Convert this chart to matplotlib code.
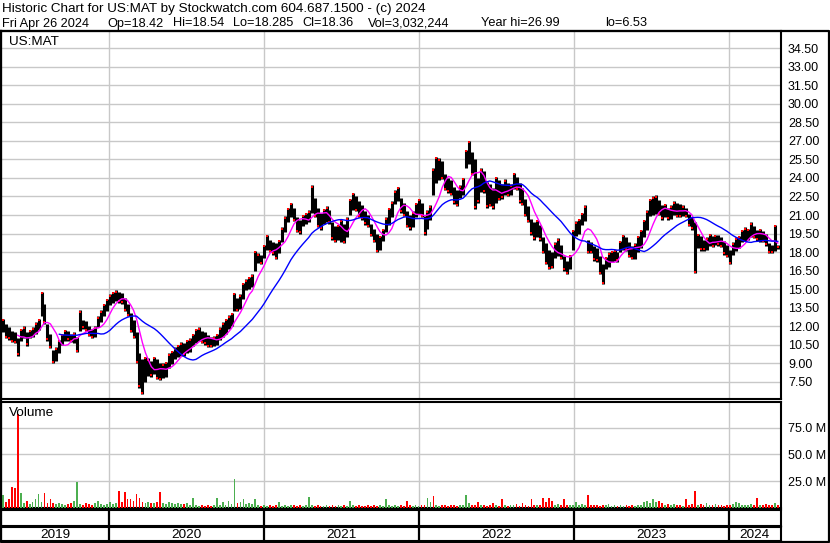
# US:MAT historic chart (Stockwatch style), weekly bars
import matplotlib
matplotlib.use('Agg')
import matplotlib.pyplot as plt
import matplotlib.dates as mdates
import numpy as np
import pandas as pd

plt.rcParams['font.family'] = ['Liberation Sans', 'DejaVu Sans']

# Data: one entry per week, Apr 26 2019 .. Apr 26 2024
start_date = '2019-04-26'

highs = [
    12.6, 12.2, 11.9, 11.6, 11.5, 11.0, 11.8, 12.0, 11.5, 11.7,
    11.9, 12.3, 12.6, 14.8, 13.8, 12.2, 11.4, 10.1, 10.3, 10.9,
    11.4, 11.7, 11.6, 11.4, 11.5, 11.1, 13.3, 12.5, 12.4, 12.0,
    11.8, 12.0, 12.8, 13.3, 13.8, 14.2, 14.6, 14.8, 14.9, 14.8,
    14.7, 14.3, 13.8, 13.1, 12.5, 11.5, 9.8, 9.3, 9.5, 9.4,
    9.2, 9.5, 9.3, 9.0, 9.0, 9.1, 9.8, 10.0, 10.3, 10.5,
    10.7, 10.6, 10.9, 11.0, 11.4, 11.8, 11.9, 11.6, 11.5, 11.3,
    11.1, 11.2, 11.4, 11.9, 12.3, 12.6, 12.9, 13.1, 14.7, 14.3,
    14.6, 15.5, 15.8, 16.0, 16.2, 18.1, 17.9, 17.8, 18.6, 19.4,
    19.0, 18.8, 18.7, 19.0, 20.0, 20.9, 21.6, 22.0, 21.6, 20.8,
    20.6, 21.0, 21.2, 21.4, 23.4, 22.4, 21.6, 21.2, 21.5, 21.7,
    21.4, 20.4, 20.1, 20.2, 20.6, 20.3, 20.8, 22.3, 22.8, 22.5,
    22.1, 21.8, 21.3, 21.0, 20.3, 19.9, 19.5, 19.3, 19.9, 20.8,
    21.6, 22.1, 23.0, 23.3, 22.4, 22.0, 21.3, 21.0, 21.3, 22.0,
    22.3, 22.0, 20.9, 21.4, 21.8, 24.8, 25.7, 25.6, 25.4, 24.3,
    24.0, 23.8, 23.3, 23.0, 23.4, 24.0, 26.3, 27.0, 26.1, 25.5,
    24.0, 24.8, 24.6, 23.7, 23.5, 23.2, 24.1, 23.8, 23.5, 23.9,
    23.6, 23.5, 24.4, 24.1, 23.6, 23.2, 22.3, 21.7, 20.7, 20.4,
    20.6, 20.2, 19.2, 18.7, 18.2, 18.0, 18.8, 19.1, 18.6, 17.7,
    17.3, 17.8, 19.8, 20.5, 20.7, 21.2, 21.8, 19.0, 18.8, 18.5,
    18.3, 17.7, 17.0, 17.6, 18.0, 18.1, 18.2, 18.0, 18.9, 19.4,
    19.2, 18.8, 18.5, 18.7, 19.3, 19.8, 20.6, 21.4, 22.3, 22.5,
    22.6, 22.2, 21.8, 21.9, 21.6, 21.8, 22.1, 22.0, 21.9, 21.8,
    21.6, 21.1, 20.8, 20.4, 19.5, 19.3, 19.0, 19.2, 19.5, 19.3,
    19.4, 19.4, 19.2, 18.9, 18.6, 18.2, 18.8, 19.2, 19.3, 19.8,
    20.0, 19.9, 20.4, 20.1, 19.8, 19.9, 19.7, 19.5, 18.7, 18.6,
    20.2, 18.54,
]

lows = [
    11.5, 11.0, 10.9, 10.7, 10.6, 9.6, 10.8, 11.0, 10.4, 11.0,
    11.1, 11.4, 11.7, 12.8, 12.2, 10.8, 10.2, 9.0, 9.2, 9.8,
    10.5, 10.8, 10.8, 10.7, 10.6, 9.9, 11.6, 11.8, 11.6, 11.2,
    11.0, 11.1, 11.9, 12.3, 12.8, 13.2, 13.7, 13.9, 14.0, 13.9,
    13.8, 13.2, 12.8, 11.5, 11.0, 9.0, 7.0, 6.5, 7.5, 8.0,
    7.9, 8.1, 7.7, 7.6, 7.8, 7.9, 8.6, 8.9, 9.3, 9.5,
    9.6, 9.6, 9.8, 9.9, 10.4, 10.6, 10.8, 10.6, 10.5, 10.3,
    10.3, 10.4, 10.5, 10.9, 11.1, 11.4, 11.8, 12.0, 13.2, 13.2,
    13.4, 14.2, 14.9, 15.0, 15.2, 16.5, 17.1, 17.0, 17.5, 18.2,
    18.0, 17.8, 17.4, 17.9, 18.8, 19.6, 20.4, 20.8, 20.5, 19.6,
    19.5, 20.1, 20.3, 20.4, 21.2, 20.8, 20.0, 19.8, 20.3, 20.4,
    20.3, 19.0, 18.8, 19.0, 18.8, 18.7, 19.2, 21.0, 21.4, 21.3,
    20.8, 20.6, 20.2, 20.0, 19.3, 18.8, 18.0, 18.2, 18.9, 19.6,
    20.2, 20.8, 21.9, 22.1, 21.2, 20.9, 20.0, 19.8, 20.0, 20.8,
    21.1, 20.8, 19.4, 19.9, 20.6, 22.6, 23.6, 23.8, 23.9, 23.0,
    22.8, 22.6, 21.9, 21.7, 22.4, 22.6, 24.8, 25.1, 24.2, 21.5,
    22.0, 22.9, 22.8, 21.6, 21.7, 21.5, 22.0, 22.2, 22.3, 22.6,
    22.5, 22.6, 23.1, 23.0, 22.0, 21.8, 20.9, 20.4, 19.4, 19.0,
    19.2, 18.9, 17.9, 17.0, 16.6, 16.7, 17.5, 17.7, 17.4, 16.5,
    16.2, 16.6, 18.2, 19.3, 19.5, 20.2, 20.5, 17.9, 17.9, 17.3,
    17.2, 16.2, 15.4, 16.6, 16.8, 17.2, 17.3, 17.2, 18.0, 18.2,
    18.1, 17.6, 17.4, 17.4, 18.0, 18.3, 19.2, 19.8, 20.9, 21.0,
    21.1, 21.0, 20.6, 20.8, 20.6, 20.7, 21.0, 20.8, 20.8, 20.9,
    20.8, 20.1, 19.8, 16.3, 18.3, 18.1, 18.1, 18.2, 18.5, 18.4,
    18.6, 18.5, 18.4, 17.8, 17.6, 17.0, 17.8, 18.1, 18.3, 18.8,
    18.9, 19.0, 19.2, 19.1, 18.9, 18.8, 18.8, 18.5, 17.9, 17.9,
    18.1, 18.285,
]

# volume in millions of shares
volumes = [
    12, 6, 8, 20, 19, 88, 14, 5, 7, 4,
    6, 8, 13, 6, 14, 5, 8, 5, 4, 5,
    4, 3, 4, 5, 7, 24, 4, 3, 5, 4,
    3, 5, 7, 4, 3, 4, 6, 4, 5, 16,
    6, 15, 8, 8, 7, 13, 9, 6, 5, 6,
    5, 5, 6, 15, 5, 4, 6, 5, 4, 5,
    4, 4, 5, 3, 9, 3, 2, 3, 2, 3,
    2, 3, 9, 3, 6, 3, 7, 4, 27, 5,
    6, 8, 4, 5, 4, 8, 3, 2, 3, 2,
    3, 2, 3, 6, 2, 3, 2, 3, 3, 2,
    3, 2, 3, 10, 3, 2, 3, 2, 2, 3,
    2, 3, 2, 3, 2, 3, 2, 7, 3, 2,
    3, 2, 2, 3, 2, 3, 2, 3, 2, 8,
    3, 2, 3, 2, 3, 2, 7, 3, 2, 3,
    2, 3, 3, 9, 6, 11, 3, 2, 3, 3,
    2, 3, 3, 2, 3, 3, 12, 5, 3, 3,
    6, 3, 3, 2, 3, 5, 3, 2, 8, 3,
    2, 3, 3, 4, 2, 5, 3, 2, 8, 3,
    3, 3, 9, 6, 9, 7, 3, 4, 3, 8,
    3, 3, 3, 6, 3, 4, 3, 12, 3, 3,
    3, 2, 3, 3, 4, 2, 3, 2, 3, 2,
    3, 2, 3, 2, 3, 3, 6, 7, 5, 8,
    6, 7, 5, 3, 4, 3, 4, 3, 3, 2,
    8, 3, 4, 16, 3, 4, 3, 5, 3, 3,
    4, 3, 3, 2, 3, 3, 4, 6, 5, 3,
    3, 3, 4, 3, 9, 3, 3, 4, 3, 3,
    5, 3,
]
# weeks whose volume bar colour differs from the price direction
vol_colour_fix = {25: 'g', 145: 'r'}

price_ticks = np.arange(7.5, 34.51, 1.5)
vol_ticks = [25, 50, 75]
years = [2019, 2020, 2021, 2022, 2023, 2024]

title1 = 'Historic Chart for US:MAT by Stockwatch.com 604.687.1500 - (c) 2024'
# second header line: fields and their left edge in pixels
title2_fields = ['Fri Apr 26 2024', 'Op=18.42', 'Hi=18.54', 'Lo=18.285',
                 'Cl=18.36', 'Vol=3,032,244', 'Year hi=26.99', 'lo=6.53']
title2_x = [2, 107, 173, 233, 302, 368, 481, 605]

GRID = '#c8c8c8'
GREEN = '#4caf50'
W, H = 830, 543

fig = plt.figure(figsize=(W / 100, H / 100), dpi=100)


def px_axes(x0, y0, x1, y1):
    return fig.add_axes([x0 / W, 1 - y1 / H, (x1 - x0) / W, (y1 - y0) / H])


dates = pd.date_range(start_date, periods=len(highs), freq='7D')
x = mdates.date2num(dates)
xlim = (x[0] - 4.5, x[-1] + 7.5)
year_lines = [mdates.date2num(pd.Timestamp(f'{y}-01-01')) for y in years[1:]]

hi = np.array(highs)
lo = np.array(lows)
mid = pd.Series((hi + lo) / 2)
up = np.r_[True, np.diff(mid.values) >= 0]
closes = np.where(up, hi - 0.12, lo + 0.12)
ma_fast = mid.rolling(6).mean()
ma_slow = mid.rolling(20).mean()

# price panel
ax = px_axes(1, 31, 781, 399)
ax.vlines(x, lo, hi, color='black', lw=2.2, zorder=3)
ax.plot(x, closes, 's', ms=1.5, mew=0, color='red', zorder=4)
ax.plot(x, ma_fast, color='#ff00ff', lw=1.0, zorder=5)
ax.plot(x, ma_slow, color='#0000ff', lw=1.0, zorder=5)
ax.set_xlim(xlim)
ax.set_ylim(6.1, 35.9)
ax.set_xticks(year_lines)
ax.set_xticklabels([])
ax.yaxis.tick_right()
ax.set_yticks(price_ticks)
ax.set_yticklabels([f'{v:.2f}' for v in price_ticks])
ax.tick_params(length=0, labelsize=9, pad=5)
ax.grid(True, color=GRID, lw=1.0)
ax.set_axisbelow(True)
ax.text(8 / 780, 1 - 11 / 368, 'US:MAT', transform=ax.transAxes,
        fontsize=9.7, va='center')

# volume panel
axv = px_axes(1, 402, 781, 508)
colours = []
for i, u in enumerate(up):
    c = vol_colour_fix.get(i, 'g' if u else 'r')
    colours.append(GREEN if c == 'g' else 'red')
axv.bar(x, volumes, width=4.2, color=colours, zorder=3)
axv.set_xlim(xlim)
axv.set_ylim(0, 99)
axv.set_xticks(year_lines)
axv.set_xticklabels([])
axv.yaxis.tick_right()
axv.set_yticks(vol_ticks)
axv.set_yticklabels([f'{v:.1f} M' for v in vol_ticks])
axv.tick_params(length=0, labelsize=9, pad=5)
axv.grid(True, color=GRID, lw=1.0)
axv.set_axisbelow(True)
axv.text(8 / 780, 1 - 11 / 106, 'Volume', transform=axv.transAxes,
         fontsize=9.7, va='center')

# date strips
bounds = [xlim[0]] + year_lines + [xlim[1]]
for y0, y1, labels in [(510, 526, False), (527, 541, True)]:
    axs = px_axes(1, y0, 781, y1)
    axs.set_xlim(xlim)
    axs.set_ylim(0, 1)
    axs.set_xticks([])
    axs.set_yticks([])
    for b in year_lines:
        axs.axvline(b, color='black', lw=1.6)
    if labels:
        for k, yr in enumerate(years):
            axs.text((bounds[k] + bounds[k + 1]) / 2, 0.45, str(yr),
                     ha='center', va='center', fontsize=9.7)

for a in fig.axes:
    for s in a.spines.values():
        s.set_color('black')
        s.set_linewidth(1.5)

# outer frame
frame = fig.add_axes([0, 0, 1, 1], facecolor='none')
frame.set_xlim(0, W)
frame.set_ylim(H, 0)
frame.axis('off')
frame.plot([0.8, 0.8, 828.5, 828.5, 0.8], [31, 541.5, 541.5, 31, 31],
           color='black', lw=1.6)

fig.text(2 / W, 1 - 9 / H, title1, fontsize=9.7, va='center')
for field, fx in zip(title2_fields, title2_x):
    fig.text(fx / W, 1 - 23.5 / H, field, fontsize=9.2, va='center')

fig.savefig('out.png', dpi=100)
